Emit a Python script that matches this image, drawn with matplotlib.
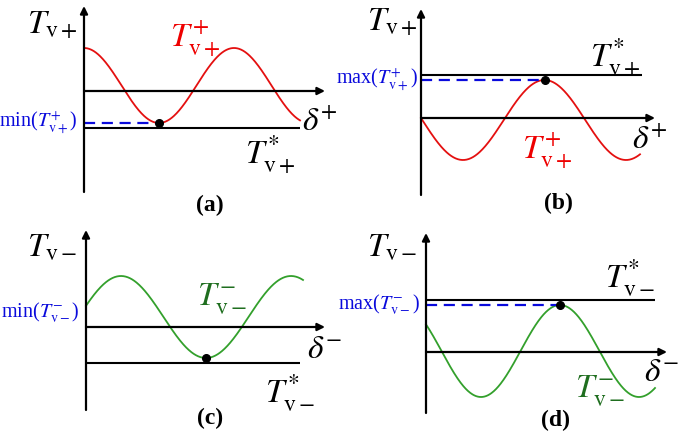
import numpy as np
import matplotlib
matplotlib.use('Agg')
from matplotlib import pyplot as plt

plt.rcParams['font.family'] = ['Liberation Serif', 'DejaVu Serif']
plt.rcParams['mathtext.fontset'] = 'stix'

# panel names and signs
panels = ['(a)', '(b)', '(c)', '(d)']
signs = ['+', '+', '-', '-']
kinds = ['min', 'max', 'min', 'max']

# curve shape per panel (units of 10 px): mean, amplitude, period, peak position, end
curve_mean = [0.55, -0.2, 1.0, 0.1]
curve_amp = [3.75, 4.0, 4.1, 4.6]
curve_period = [15.0, 16.3, 17.0, 15.8]
curve_peak = [0.0, 12.35, 3.5, 13.4]
curve_end = [21.6, 21.9, 21.7, 22.9]

# threshold T* level and its line end
tstar_level = [-3.7, 4.3, -3.6, 5.2]
tstar_end = [21.6, 22.1, 21.4, 22.9]

# marked extremum (x, y)
dot_x = [7.5, 12.35, 12.0, 13.4]
dot_y = [-3.2, 3.8, -3.1, 4.7]
dashed = [True, True, False, True]

# axes extents
yaxis_bottom = [-10.1, -7.7, -8.3, -6.1]
yaxis_top = [8.5, 10.9, 9.7, 11.9]
xaxis_end = [24.1, 23.4, 23.9, 24.1]

# label positions
ylab_pos = [(-3.2, 6.6), (-2.9, 9.6), (-3.4, 7.9), (-3.4, 10.4)]
curve_lab_pos = [(11.1, 5.3), (12.6, -3.2), (13.6, 2.9), (17.4, -3.8)]
delta_pos = [(23.6, -3.1), (22.9, -2.2), (23.9, -2.3), (23.6, -2.1)]
tstar_lab_pos = [(18.6, -6.4), (19.4, 6.0), (20.4, -6.6), (20.4, 7.4)]
ext_lab_pos = [(-0.6, -3.2), (-0.3, 3.8), (-0.6, 1.4), (-0.6, 4.7)]
panel_lab_pos = [(12.6, -11.4), (13.7, -8.5), (12.4, -9.1), (12.9, -6.8)]

# panel rectangles in pixels (left, top, width, height) and origin offsets
rects = [(0, 0, 340, 218), (340, 0, 345, 218), (0, 218, 340, 218), (340, 218, 345, 218)]
origins = [(84, 91), (81, 118), (86, 109), (86, 134)]

curve_colors = ['#e41010', '#e41010', '#33a02c', '#33a02c']
curve_text_colors = ['#ee0000', '#ee0000', '#1f6e1f', '#1f6e1f']
blue = '#0a0adc'

W, H = 685, 436
fig = plt.figure(figsize=(6.85, 4.36), dpi=100)

for i in range(4):
    l, t, w, h = rects[i]
    ox, oy = origins[i]
    ax = fig.add_axes([l / W, 1 - (t + h) / H, w / W, h / H])
    ax.set_xlim(-ox / 10, (w - ox) / 10)
    ax.set_ylim(-(h - oy) / 10, oy / 10)
    ax.axis('off')
    s = signs[i]

    # axes with arrows
    arr = dict(arrowstyle='-|>', lw=1.6, color='black', mutation_scale=11, shrinkA=0, shrinkB=0)
    ax.annotate('', xy=(0, yaxis_top[i]), xytext=(0, yaxis_bottom[i]), arrowprops=arr)
    ax.annotate('', xy=(xaxis_end[i], 0), xytext=(0, 0), arrowprops=arr)

    # threshold line
    ax.plot([0, tstar_end[i]], [tstar_level[i], tstar_level[i]], color='black', lw=1.5,
            solid_capstyle='butt')

    # curve
    x = np.linspace(0, curve_end[i], 400)
    y = curve_mean[i] + curve_amp[i] * np.cos(2 * np.pi * (x - curve_peak[i]) / curve_period[i])
    ax.plot(x, y, color=curve_colors[i], lw=1.3)

    # extremum marker
    if dashed[i]:
        ax.plot([0, dot_x[i]], [dot_y[i], dot_y[i]], color=blue, lw=1.6, dashes=(5, 3))
    ax.plot(dot_x[i], dot_y[i], 'o', color='black', markersize=5.5, zorder=5)

    # labels
    ax.text(*ylab_pos[i], r'$T_{\mathrm{v}%s}$' % s, fontsize=24, ha='center', va='center')
    ax.text(*curve_lab_pos[i], r'$T^{%s}_{\mathrm{v}%s}$' % (s, s), fontsize=24,
            color=curve_text_colors[i], ha='center', va='center')
    ax.text(*delta_pos[i], r'$\delta^{%s}$' % s, fontsize=24, ha='center', va='center')
    ax.text(*tstar_lab_pos[i], r'$T^{*}_{\mathrm{v}%s}$' % s, fontsize=24, ha='center', va='center')
    ax.text(*ext_lab_pos[i], r'%s($T^{%s}_{\mathrm{v}%s}$)' % (kinds[i], s, s), fontsize=14.5,
            color=blue, ha='right', va='center')
    ax.text(*panel_lab_pos[i], panels[i], fontsize=17, fontweight='bold', ha='center', va='center')

fig.savefig('out.png', dpi=100)
